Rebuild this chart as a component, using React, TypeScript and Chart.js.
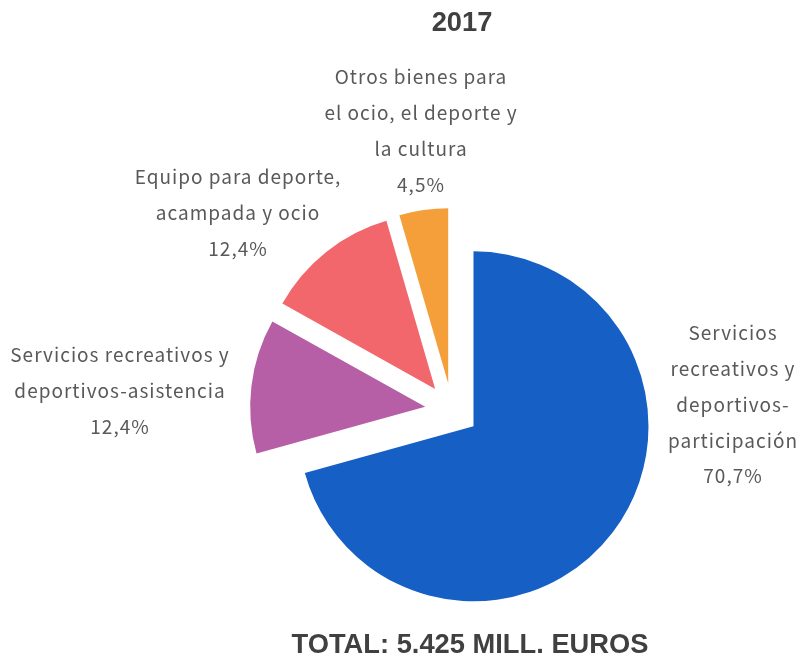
import React, { useEffect, useRef } from 'react';
import { Chart, registerables } from 'chart.js';

Chart.register(...registerables);

// ---- data ----
const categories = [
  'Servicios recreativos y deportivos-participación',
  'Servicios recreativos y deportivos-asistencia',
  'Equipo para deporte, acampada y ocio',
  'Otros bienes para el ocio, el deporte y la cultura',
];
const values = [70.7, 12.4, 12.4, 4.5];
const percentLabels = ['70,7%', '12,4%', '12,4%', '4,5%'];
const labelLines = [
  ['Servicios', 'recreativos y', 'deportivos-', 'participación'],
  ['Servicios recreativos y', 'deportivos-asistencia'],
  ['Equipo para deporte,', 'acampada y ocio'],
  ['Otros bienes para', 'el ocio, el deporte y', 'la cultura'],
];
const titleText = '2017';
const footerText = 'TOTAL: 5.425 MILL. EUROS';

// ---- styles / layout ----
const colors = ['#155FC5', '#B65EA6', '#F2676C', '#F59F3B'];
const W = 799;
const H = 659;
const CENTER_X = 452;
const CENTER_Y = 410;
const RADIUS = 175;
const EXPLODE = 27;
const LINE_H = 35.8;
// anchor of the first label line, relative to the pie centre
const labelAnchors: [number, number][] = [
  [281, -77],
  [-332, -55],
  [-214, -233],
  [-31, -333],
];
const LABEL_FONT = '19px "Noto Sans CJK JP", "Noto Sans", sans-serif';
const LABEL_SPACING = '1px';
const LABEL_COLOR = '#595959';
const HEAD_FONT = 'bold 27.3px "Liberation Sans", Arial, sans-serif';
const HEAD_COLOR = '#404040';

const explodePlugin = {
  id: 'explode',
  beforeDatasetDraw(chart: any, args: any) {
    const ctx = chart.ctx;
    args.meta.data.forEach((arc: any) => {
      const mid = (arc.startAngle + arc.endAngle) / 2;
      ctx.save();
      ctx.translate(Math.cos(mid) * EXPLODE, Math.sin(mid) * EXPLODE);
      arc.draw(ctx, chart.chartArea);
      ctx.restore();
    });
    return false;
  },
};

const textPlugin = {
  id: 'texts',
  afterDatasetsDraw(chart: any) {
    const ctx = chart.ctx;
    const meta = chart.getDatasetMeta(0);
    ctx.save();
    ctx.textAlign = 'center';
    ctx.textBaseline = 'middle';
    ctx.font = LABEL_FONT;
    ctx.fillStyle = LABEL_COLOR;
    if ('letterSpacing' in ctx) (ctx as any).letterSpacing = LABEL_SPACING;
    meta.data.forEach((arc: any, i: number) => {
      const lines = [...labelLines[i], percentLabels[i]];
      const [ax, ay] = labelAnchors[i];
      lines.forEach((line, j) => {
        ctx.fillText(line, arc.x + ax, arc.y + ay + j * LINE_H);
      });
    });
    if ('letterSpacing' in ctx) (ctx as any).letterSpacing = '0px';
    ctx.font = HEAD_FONT;
    ctx.fillStyle = HEAD_COLOR;
    ctx.fillText(titleText, 462, 23);
    ctx.fillText(footerText, 470, 645);
    ctx.restore();
  },
};

export default function App() {
  const ref = useRef<HTMLCanvasElement | null>(null);
  useEffect(() => {
    if (!ref.current) return;
    const chart = new Chart(ref.current, {
      type: 'pie',
      data: {
        labels: categories,
        datasets: [
          {
            data: values,
            backgroundColor: colors,
            borderWidth: 0,
          },
        ],
      },
      options: {
        responsive: false,
        animation: false,
        radius: RADIUS,
        layout: {
          padding: {
            left: 2 * CENTER_X - W,
            right: 0,
            top: 2 * CENTER_Y - H,
            bottom: 0,
          },
        },
        plugins: {
          legend: { display: false },
          tooltip: { enabled: false },
          title: { display: false },
        },
      } as any,
      plugins: [explodePlugin, textPlugin],
    });
    return () => chart.destroy();
  }, []);
  return (
    <div style={{ position: 'absolute', left: 0, top: 0, width: W, height: H, background: '#fff' }}>
      <canvas ref={ref} width={W} height={H} />
    </div>
  );
}
